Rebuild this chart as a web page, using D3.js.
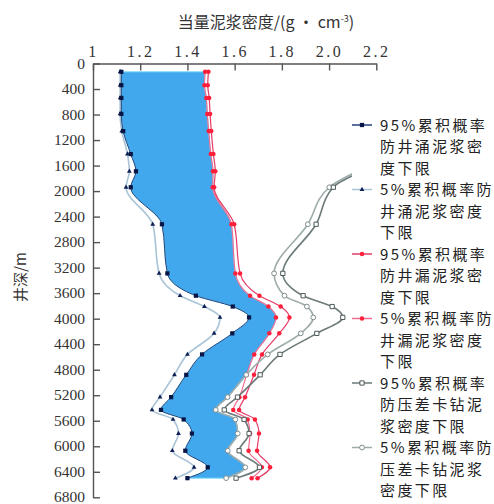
<!DOCTYPE html>
<html>
<head>
<meta charset="utf-8">
<script src="https://cdn.jsdelivr.net/npm/d3@7"></script>
<style>
  body { margin: 0; background: #fff; }
  svg { display: block; }
</style>
</head>
<body>
<svg id="chart" width="494" height="504"></svg>
<script>
// depth of each sample point (m)
const depths = [130, 340, 540, 790, 1060, 1420, 1690, 1940, 2520, 3290, 3640, 3810, 3980, 4230, 4560, 4880, 5230, 5430, 5580, 5800, 6070, 6330, 6500];

// equivalent mud density (g/cm3) for each series, one per depth
const kick95  = [1.12, 1.12, 1.12, 1.12, 1.128, 1.160, 1.182, 1.160, 1.292, 1.315, 1.436, 1.592, 1.661, 1.590, 1.462, 1.395, 1.331, 1.288, 1.384, 1.419, 1.391, 1.486, 1.400];
const kick5   = [1.115, 1.115, 1.115, 1.115, 1.122, 1.146, 1.154, 1.140, 1.253, 1.280, 1.369, 1.472, 1.538, 1.513, 1.400, 1.345, 1.284, 1.250, 1.339, 1.362, 1.336, 1.428, 1.349];
const loss95  = [1.489, 1.486, 1.492, 1.496, 1.501, 1.510, 1.518, 1.513, 1.598, 1.623, 1.705, 1.795, 1.832, 1.789, 1.716, 1.682, 1.644, 1.619, 1.686, 1.703, 1.695, 1.750, 1.697];
const loss5   = [1.475, 1.472, 1.480, 1.484, 1.490, 1.499, 1.508, 1.507, 1.586, 1.603, 1.665, 1.743, 1.775, 1.747, 1.683, 1.651, 1.620, 1.594, 1.655, 1.665, 1.659, 1.715, 1.672];
const stick95 = [null, null, null, null, null, null, 2.14, 2.018, 1.945, 1.804, 1.890, 2.013, 2.058, 1.948, 1.792, 1.708, 1.612, 1.556, 1.640, 1.661, 1.619, 1.705, 1.606];
const stick5  = [null, null, null, null, null, null, 2.12, 2.001, 1.910, 1.767, 1.811, 1.906, 1.933, 1.880, 1.740, 1.649, 1.570, 1.520, 1.603, 1.613, 1.571, 1.645, 1.564];

const xTicks = [1, 1.2, 1.4, 1.6, 1.8, 2.0, 2.2];
const yTicks = d3.range(0, 6801, 400);

const legendLines = [
  ['95%累积概率', '防井涌泥浆密', '度下限'],
  ['5%累积概率防', '井涌泥浆密度', '下限'],
  ['95%累积概率', '防井漏泥浆密', '度下限'],
  ['5%累积概率防', '井漏泥浆密度', '下限'],
  ['95%累积概率', '防压差卡钻泥', '浆密度下限'],
  ['5%累积概率防', '压差卡钻泥浆', '密度下限']
];

const svg = d3.select('#chart');

const x = d3.scaleLinear().domain([1, 2.2]).range([93, 376.3]);
const y = d3.scaleLinear().domain([0, 6800]).range([63.5, 497.3]);

// safe window: between 95% kick limit and the smaller of 5% loss / 5% sticking limits
const windowData = depths.map((d, i) => ({
  depth: d,
  lo: kick95[i],
  hi: Math.min(loss5[i], stick5[i] == null ? Infinity : stick5[i])
}));

svg.append('path')
  .datum(windowData)
  .attr('fill', '#42a8ee')
  .attr('stroke', '#7fdcf8')
  .attr('stroke-width', 1)
  .attr('d', d3.area()
    .y(d => y(d.depth))
    .x0(d => x(d.lo))
    .x1(d => x(d.hi))
    .curve(d3.curveMonotoneY));

// series styling
const series = [
  { values: kick5,   line: '#a9c4d6', width: 1.6, shape: d3.symbolTriangle, size: 10, fill: '#0d1f55', stroke: 'none' },
  { values: kick95,  line: '#23407a', width: 1.0, shape: d3.symbolSquare,   size: 18, fill: '#071646', stroke: 'none' },
  { values: loss5,   line: '#ee6f92', width: 1.2, shape: d3.symbolCircle,   size: 16, fill: '#ff1f3a', stroke: 'none' },
  { values: loss95,  line: '#e43d68', width: 1.2, shape: d3.symbolCircle,   size: 16, fill: '#ff1f3a', stroke: 'none' },
  { values: stick5,  line: '#9eabab', width: 1.6, shape: d3.symbolCircle,   size: 18, fill: '#fff', stroke: '#7f8c8c' },
  { values: stick95, line: '#6c7a7a', width: 1.6, shape: d3.symbolSquare,   size: 18, fill: '#fff', stroke: '#4e5a5a' }
];

const line = d3.line()
  .x(d => x(d.v))
  .y(d => y(d.depth))
  .curve(d3.curveMonotoneY);

series.forEach(s => {
  const pts = depths.map((d, i) => ({ depth: d, v: s.values[i] })).filter(p => p.v != null);
  svg.append('path')
    .datum(pts)
    .attr('fill', 'none')
    .attr('stroke', s.line)
    .attr('stroke-width', s.width)
    .attr('d', line);
  svg.append('g').selectAll('path')
    .data(pts)
    .enter()
    .append('path')
    .attr('transform', p => `translate(${x(p.v)},${y(p.depth)})`)
    .attr('d', d3.symbol().type(s.shape).size(s.size))
    .attr('fill', s.fill)
    .attr('stroke', s.stroke)
    .attr('stroke-width', 1);
});

// legend (white box covers lines running under it)
svg.append('rect')
  .attr('x', 352).attr('y', 108)
  .attr('width', 142).attr('height', 396)
  .attr('fill', '#fff');

const legendOrder = [1, 0, 3, 2, 5, 4];
legendLines.forEach((lines, k) => {
  const s = series[legendOrder[k]];
  const cy = 125 + k * 64.5;
  svg.append('line')
    .attr('x1', 352).attr('x2', 372)
    .attr('y1', cy).attr('y2', cy)
    .attr('stroke', s.line)
    .attr('stroke-width', 1.5);
  svg.append('path')
    .attr('transform', `translate(362,${cy})`)
    .attr('d', d3.symbol().type(s.shape).size(s.size))
    .attr('fill', s.fill)
    .attr('stroke', s.stroke)
    .attr('stroke-width', 1);
  const t = svg.append('text')
    .attr('x', 380)
    .attr('y', cy + 5.5)
    .style('font-family', '"Noto Sans CJK SC", sans-serif')
    .style('font-size', '15px')
    .style('letter-spacing', '2.4px')
    .attr('fill', '#222');
  lines.forEach((l, j) => {
    t.append('tspan')
      .attr('x', 380)
      .attr('dy', j === 0 ? 0 : 21.5)
      .text(l);
  });
});

// axes
const xAxis = svg.append('g')
  .attr('transform', `translate(0,${y(0)})`)
  .call(d3.axisTop(x).tickValues(xTicks).tickSizeInner(-7).tickSizeOuter(0)
    .tickFormat(d => d === 1 ? '1' : d3.format('.1f')(d)));
xAxis.attr('font-family', '"Liberation Serif", serif');
xAxis.selectAll('text')
  .attr('y', -7)
  .style('font-family', '"Liberation Serif", serif')
  .style('font-size', '16px')
  .style('letter-spacing', '2.5px')
  .attr('fill', '#333');

const yAxis = svg.append('g')
  .attr('transform', `translate(${x(1)},0)`)
  .call(d3.axisLeft(y).tickValues(yTicks).tickSizeInner(-7).tickSizeOuter(0)
    .tickFormat(d3.format('d')));
yAxis.attr('font-family', '"Liberation Serif", serif');
yAxis.selectAll('text')
  .attr('x', -8)
  .attr('dy', '0.3em')
  .style('font-family', '"Liberation Serif", serif')
  .style('font-size', '15.5px')
  .attr('fill', '#333');

svg.selectAll('.domain, .tick line')
  .attr('stroke', '#555')
  .attr('stroke-width', 1.4);

// axis titles
const title = svg.append('text')
  .attr('x', 266)
  .attr('y', 28)
  .attr('text-anchor', 'middle')
  .style('font-family', '"Noto Sans CJK SC", sans-serif')
  .style('font-size', '16px')
  .attr('fill', '#333');
title.append('tspan').text('当量泥浆密度/(g • cm');
title.append('tspan').attr('dy', -6).style('font-size', '9px').text('-3');
title.append('tspan').attr('dy', 6).text(')');

svg.append('text')
  .attr('transform', 'translate(26,277) rotate(-90)')
  .attr('text-anchor', 'middle')
  .style('font-family', '"Noto Sans CJK SC", sans-serif')
  .style('font-size', '15px')
  .attr('fill', '#333')
  .text('井深/m');
</script>
</body>
</html>
